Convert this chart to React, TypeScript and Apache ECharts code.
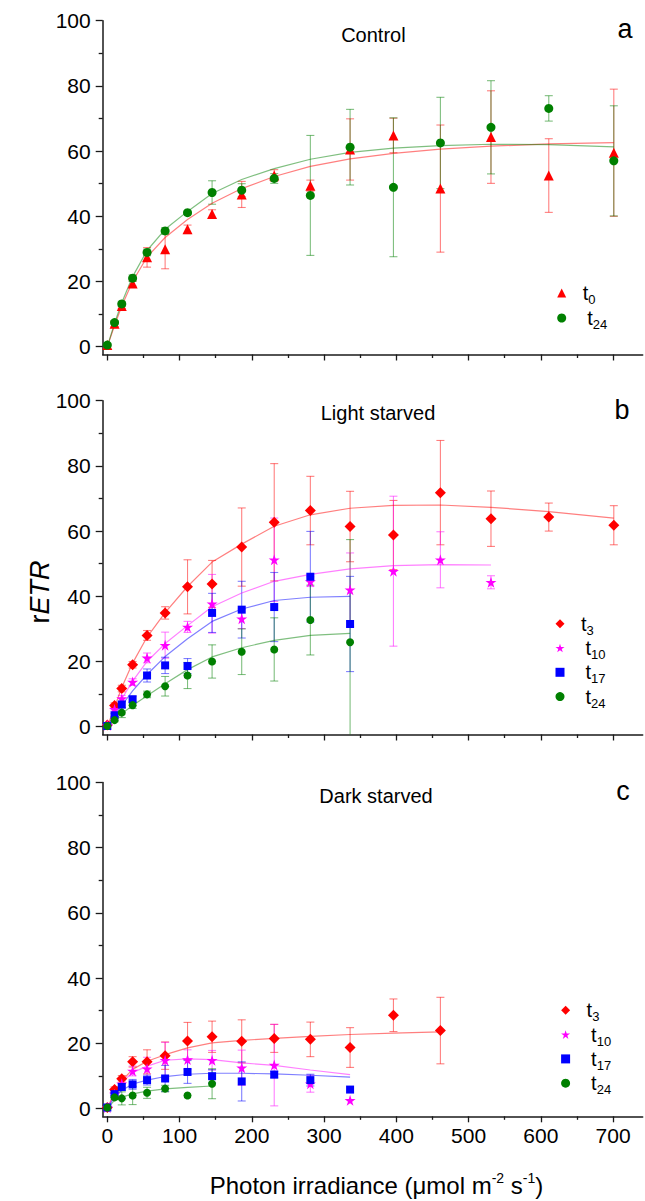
import React, { useEffect, useRef } from "react";
import * as echarts from "echarts";

// ---------- DATA ----------
const irradiance = [0, 10, 20, 35, 55, 80, 111, 145, 186, 231, 281, 336, 396, 461, 531, 611, 701];

// Panel a – Control
const controlT0 = [0.5, 7.0, 12.5, 19.4, 27.4, 29.9, 36.0, 40.7, 46.7, 52.5, 49.4, 60.5, 64.8, 48.5, 64.3, 52.5, 59.5];
const controlT0Err = [0, 0.8, 0.8, 0.8, 3, 6, 1.3, 1.3, 4, 1.8, 1.7, 9.4, 5.3, 19.5, 14.2, 11.3, 19.5];
const controlT0Fit = [0, 6.5, 12.5, 20, 27.5, 33.5, 39, 44, 48.5, 52.2, 55.3, 57.6, 59.3, 60.6, 61.5, 62.2, 62.6];
const controlT24 = [0.5, 7.4, 13.1, 21.0, 28.9, 35.5, 41.1, 47.3, 48.0, 51.6, 46.4, 61.2, 48.9, 62.5, 67.3, 73.1, 57.0];
const controlT24Err = [0, 0.5, 0.8, 1, 1, 1, 0.5, 3.6, 2, 1.5, 18.4, 11.6, 21.3, 14, 14.3, 3.9, 16.9];
const controlT24Fit = [0, 7.2, 13.5, 21.5, 29.5, 36, 41.5, 47, 51.3, 54.6, 57.5, 59.6, 60.9, 61.7, 62.1, 62.0, 61.3];

// Panel b – Light starved
const lightT3 = [0.5, 6.5, 11.7, 19.0, 28.0, 34.9, 42.9, 43.8, 55.1, 62.7, 66.3, 61.4, 58.8, 71.8, 63.8, 64.3, 61.8];
const lightT3Err = [0, 0.8, 1, 1, 1.5, 1.9, 8.3, 7.2, 12, 18, 10.5, 10.8, 10.6, 16, 8.5, 4.3, 6];
const lightT3Fit = [0, 6, 12, 19.5, 27.5, 35, 43, 50.5, 56, 61.5, 65, 67, 67.9, 68, 67.3, 66, 64];
const lightT10 = [0.4, 5.3, 8.6, 13.7, 21.1, 25.0, 30.6, 37.7, 33.1, 51.2, 44.5, 42.0, 47.7, 51.2, 44.3];
const lightT10Err = [0, 0.5, 1, 1, 1.5, 4, 1.7, 9, 3, 12.8, 1.5, 11.3, 23, 8.6, 2];
const lightT10Fit = [0, 4.5, 8.5, 14, 20, 25.5, 31, 36.8, 41, 44.6, 46.7, 48.4, 49.4, 49.7, 49.6];
const lightT17 = [0.2, 3.5, 6.8, 8.4, 15.7, 18.8, 18.6, 34.9, 35.9, 36.7, 46.0, 31.5];
const lightT17Err = [0, 0.5, 1, 1, 2, 2.5, 2.3, 6, 8.7, 10.6, 13.9, 14.6];
const lightT17Fit = [0, 3.5, 6.5, 11, 16, 21.5, 27, 32.3, 36.1, 38.7, 39.7, 40];
const lightT24 = [0.2, 2.0, 4.3, 6.6, 9.9, 12.4, 15.7, 20.0, 23.0, 23.7, 32.7, 25.9];
const lightT24Err = [0, 0.5, 1.5, 1, 1, 3, 4, 5.1, 7, 9.7, 10.7, 31.5];
const lightT24Fit = [0, 2, 4, 6.5, 9.5, 13.2, 17.5, 21.4, 24.2, 26.5, 28, 28.6];

// Panel c – Dark starved
const darkT3 = [0.3, 5.8, 9.1, 14.3, 14.3, 16.2, 20.7, 22.0, 20.6, 21.5, 21.2, 18.7, 28.6, 23.9];
const darkT3Err = [0, 0.8, 1, 1.6, 3.7, 4.2, 5.7, 4.8, 6.6, 4.3, 5.3, 6.1, 5, 10.2];
const darkT3Fit = [0, 5, 8.5, 12, 14.5, 16.5, 18.6, 20.1, 20.9, 21.5, 22.1, 22.7, 23.1, 23.5];
const darkT10 = [0.3, 4.4, 7.6, 11.5, 12.2, 14.8, 15.0, 14.8, 12.5, 13.3, 7.6, 2.5];
const darkT10Err = [0, 0.5, 1, 1.5, 3.5, 5.5, 3, 3, 5.4, 12.5, 2.6, 0];
const darkT10Fit = [0, 4.5, 8, 11, 13, 14.8, 15.2, 15, 14, 13.2, 11.8, 10.4];
const darkT17 = [0.3, 4.4, 6.6, 7.4, 8.7, 9.2, 11.2, 9.9, 8.3, 10.4, 8.7, 5.8];
const darkT17Err = [0, 0.5, 1, 1.5, 1.5, 4, 3.5, 2, 6, 1, 1.8, 0];
const darkT17Fit = [0, 3.5, 5.5, 7.5, 8.7, 9.8, 10.5, 10.8, 10.8, 10.6, 10.2, 9.6];
const darkT24 = [0.3, 3.4, 3.1, 4.0, 4.8, 6.1, 4.0, 7.6];
const darkT24Err = [0, 0.5, 2, 2.8, 1.7, 1, 0, 4.6];
const darkT24Fit = [0, 2.5, 3.5, 4.5, 5.3, 6, 6.5, 6.9];

const panelTitles = ["Control", "Light starved", "Dark starved"];
const panelLetters = ["a", "b", "c"];
const xMajorTicks = [0, 100, 200, 300, 400, 500, 600, 700];
const xMinorTicks = [50, 150, 250, 350, 450, 550, 650];
const yMajorTicks = [0, 20, 40, 60, 80, 100];
const yMinorTicks = [10, 30, 50, 70, 90];

// ---------- STYLE ----------
const FONT = "'Liberation Sans', Arial, Helvetica, sans-serif";
const AXIS = "#1a1a1a";
const STAR = "path://M0,-10L2.245,-3.09L9.511,-3.09L3.633,1.18L5.878,8.09L0,3.82L-5.878,8.09L-3.633,1.18L-9.511,-3.09L-2.245,-3.09Z";
const RED = { c: "#FF0000", l: "rgba(255,0,0,0.5)" };
const GREEN = { c: "#008000", l: "rgba(0,128,0,0.5)" };
const BLUE = { c: "#0000FF", l: "rgba(0,0,255,0.5)" };
const MAGENTA = { c: "#FF00FF", l: "rgba(255,0,255,0.5)" };

type Spec = {
  panel: number;
  name: string;
  symbol: string;
  size: number;
  col: { c: string; l: string };
  values: number[];
  errors: number[];
  fit: number[];
};

const specs: Spec[] = [
  { panel: 0, name: "a_t0", symbol: "triangle", size: 10, col: RED, values: controlT0, errors: controlT0Err, fit: controlT0Fit },
  { panel: 0, name: "a_t24", symbol: "circle", size: 9, col: GREEN, values: controlT24, errors: controlT24Err, fit: controlT24Fit },
  { panel: 1, name: "b_t3", symbol: "diamond", size: 11, col: RED, values: lightT3, errors: lightT3Err, fit: lightT3Fit },
  { panel: 1, name: "b_t10", symbol: STAR, size: 11, col: MAGENTA, values: lightT10, errors: lightT10Err, fit: lightT10Fit },
  { panel: 1, name: "b_t17", symbol: "rect", size: 8, col: BLUE, values: lightT17, errors: lightT17Err, fit: lightT17Fit },
  { panel: 1, name: "b_t24", symbol: "circle", size: 8, col: GREEN, values: lightT24, errors: lightT24Err, fit: lightT24Fit },
  { panel: 2, name: "c_t3", symbol: "diamond", size: 11, col: RED, values: darkT3, errors: darkT3Err, fit: darkT3Fit },
  { panel: 2, name: "c_t10", symbol: STAR, size: 11, col: MAGENTA, values: darkT10, errors: darkT10Err, fit: darkT10Fit },
  { panel: 2, name: "c_t17", symbol: "rect", size: 8, col: BLUE, values: darkT17, errors: darkT17Err, fit: darkT17Fit },
  { panel: 2, name: "c_t24", symbol: "circle", size: 8, col: GREEN, values: darkT24, errors: darkT24Err, fit: darkT24Fit },
];

const X_MIN = -6.4;
const X_MAX = 741;
const Y_MIN = -2.4;
const Y_MAX = 100;
const gridTops = [20.7, 400.7, 782.5];
const GRID_LEFT = 102.7;
const GRID_W = 540;
const GRID_H = 333.8;

function buildOption() {
  const grid = gridTops.map((t) => ({ left: GRID_LEFT, top: t, width: GRID_W, height: GRID_H }));

  const xMajor = [0, 1, 2].map((i) => ({
    type: "value",
    gridIndex: i,
    min: X_MIN,
    max: X_MAX,
    position: "bottom",
    axisLine: { show: true, onZero: false, lineStyle: { color: AXIS, width: 1.5 } },
    axisTick: { show: true, inside: false, length: 6, customValues: xMajorTicks, lineStyle: { color: AXIS, width: 1.3 } },
    axisLabel: { show: i === 2, customValues: xMajorTicks, fontSize: 21, color: "#000", fontFamily: FONT, margin: 9 },
    splitLine: { show: false },
  }));
  const xMinor = [0, 1, 2].map((i) => ({
    type: "value",
    gridIndex: i,
    min: X_MIN,
    max: X_MAX,
    position: "bottom",
    axisLine: { show: false, onZero: false },
    axisTick: { show: true, inside: false, length: 3.5, customValues: xMinorTicks, lineStyle: { color: AXIS, width: 1.3 } },
    axisLabel: { show: false },
    splitLine: { show: false },
  }));
  const yMajor = [0, 1, 2].map((i) => ({
    type: "value",
    gridIndex: i,
    min: Y_MIN,
    max: Y_MAX,
    position: "left",
    axisLine: { show: true, onZero: false, lineStyle: { color: AXIS, width: 1.5 } },
    axisTick: { show: true, inside: false, length: 7, customValues: yMajorTicks, lineStyle: { color: AXIS, width: 1.3 } },
    axisLabel: { show: true, customValues: yMajorTicks, fontSize: 21, color: "#000", fontFamily: FONT, margin: 12 },
    splitLine: { show: false },
  }));
  const yMinor = [0, 1, 2].map((i) => ({
    type: "value",
    gridIndex: i,
    min: Y_MIN,
    max: Y_MAX,
    position: "left",
    axisLine: { show: false, onZero: false },
    axisTick: { show: true, inside: false, length: 4, customValues: yMinorTicks, lineStyle: { color: AXIS, width: 1.3 } },
    axisLabel: { show: false },
    splitLine: { show: false },
  }));

  const series: any[] = [];
  specs.forEach((s) => {
    const n = s.values.length;
    const xs = irradiance.slice(0, n);
    const errData = xs
      .map((x, i) => [x, s.values[i] - s.errors[i], s.values[i] + s.errors[i]])
      .filter((d, i) => s.errors[i] > 0);
    series.push({
      type: "custom",
      name: s.name + "_err",
      xAxisIndex: s.panel,
      yAxisIndex: s.panel,
      silent: true,
      z: 1,
      data: errData,
      encode: { x: 0, y: [1, 2] },
      renderItem: (params: any, api: any) => {
        const x = api.value(0);
        const lo = api.value(1);
        const hi = api.value(2);
        const pHi = api.coord([x, hi]);
        const pLo = api.coord([x, lo]);
        const cs = params.coordSys;
        const bottom = cs.y + cs.height;
        const w = 4;
        const style = { stroke: s.col.l, lineWidth: 1.1 };
        const yLo = Math.min(pLo[1], bottom);
        const children: any[] = [
          { type: "line", shape: { x1: pHi[0], y1: pHi[1], x2: pLo[0], y2: yLo }, style },
          { type: "line", shape: { x1: pHi[0] - w, y1: pHi[1], x2: pHi[0] + w, y2: pHi[1] }, style },
        ];
        if (pLo[1] <= bottom) {
          children.push({ type: "line", shape: { x1: pLo[0] - w, y1: pLo[1], x2: pLo[0] + w, y2: pLo[1] }, style });
        }
        return { type: "group", children };
      },
    });
    series.push({
      type: "line",
      name: s.name + "_fit",
      xAxisIndex: s.panel,
      yAxisIndex: s.panel,
      silent: true,
      z: 2,
      symbol: "none",
      showSymbol: false,
      data: s.fit.map((v, i) => [irradiance[i], v]),
      lineStyle: { color: s.col.l, width: 1.2 },
    });
    series.push({
      type: "scatter",
      name: s.name,
      xAxisIndex: s.panel,
      yAxisIndex: s.panel,
      z: 3,
      symbol: s.symbol,
      symbolSize: s.size,
      data: s.values.map((v, i) => [xs[i], v]),
      itemStyle: { color: s.col.c, opacity: 1 },
    });
  });

  const legendRich = {
    t: { fontSize: 20, lineHeight: 26, fontFamily: FONT, color: "#000", padding: [0, 0, 0, 11.5] },
    tp: { fontSize: 20, lineHeight: 26, fontFamily: FONT, color: "#000", padding: [0, 0, 0, 16] },
    s: { fontSize: 13, lineHeight: 12, fontFamily: FONT, color: "#000", verticalAlign: "bottom" },
  };
  const legendFormatter = (name: string) => {
    const sub = name.split("_t")[1];
    const tk = sub.length > 1 ? "tp" : "t";
    return `{${tk}|t}{s|${sub}}`;
  };
  const mkLegend = (names: string[], left: number, top: number, gap: number) => ({
    data: names,
    orient: "vertical",
    left,
    top,
    itemWidth: 9,
    itemHeight: 9,
    itemGap: gap,
    padding: 0,
    selectedMode: false,
    formatter: legendFormatter,
    textStyle: { fontFamily: FONT, rich: legendRich },
  });
  const legend = [
    mkLegend(["a_t0", "a_t24"], 557.2, 283, 2),
    mkLegend(["b_t3", "b_t10", "b_t17", "b_t24"], 555.5, 613.7, 1.3),
    mkLegend(["c_t3", "c_t10", "c_t17", "c_t24"], 561.1, 1000.3, 1.3),
  ];

  const titleX = [373.4, 378, 376];
  const titleDy = [14.3, 12.6, 13];
  const letterX = [625, 622, 623];
  const letterDy = [8.3, 9.3, 8.3];
  const graphic: any[] = [];
  gridTops.forEach((t, i) => {
    graphic.push({
      type: "text",
      x: titleX[i],
      y: t + titleDy[i],
      style: { text: panelTitles[i], font: `20px ${FONT}`, fill: "#000", align: "center", verticalAlign: "middle" },
    });
    graphic.push({
      type: "text",
      x: letterX[i],
      y: t + letterDy[i],
      style: { text: panelLetters[i], font: `27px ${FONT}`, fill: "#000", align: "center", verticalAlign: "middle" },
    });
  });
  graphic.push({
    type: "text",
    x: 40,
    y: 592,
    rotation: Math.PI / 2,
    style: {
      text: "{n|r}{i|ETR}",
      align: "center",
      verticalAlign: "middle",
      rich: {
        n: { fontSize: 27, fontFamily: FONT, fill: "#000" },
        i: { fontSize: 27, fontFamily: FONT, fontStyle: "italic", fill: "#000" },
      },
    },
  });
  graphic.push({
    type: "text",
    x: 376.5,
    y: 1185,
    style: {
      text: "{n|Photon irradiance (μmol m}{p|-2}{n| s}{p|-1}{n|)}",
      align: "center",
      verticalAlign: "middle",
      rich: {
        n: { fontSize: 24, lineHeight: 28, fontFamily: FONT, fill: "#000" },
        p: { fontSize: 14, lineHeight: 14, fontFamily: FONT, fill: "#000", verticalAlign: "top" },
      },
    },
  });

  return {
    animation: false,
    backgroundColor: "#ffffff",
    grid,
    xAxis: [...xMajor, ...xMinor],
    yAxis: [...yMajor, ...yMinor],
    legend,
    graphic,
    series,
  };
}

export default function App() {
  const ref = useRef<HTMLDivElement>(null);
  useEffect(() => {
    if (!ref.current) return;
    const chart = echarts.init(ref.current, undefined, { renderer: "svg" });
    chart.setOption(buildOption() as any);
    return () => chart.dispose();
  }, []);
  return (
    <div
      ref={ref}
      style={{ position: "absolute", left: 0, top: 0, width: 645, height: 1201, background: "#fff" }}
    />
  );
}
